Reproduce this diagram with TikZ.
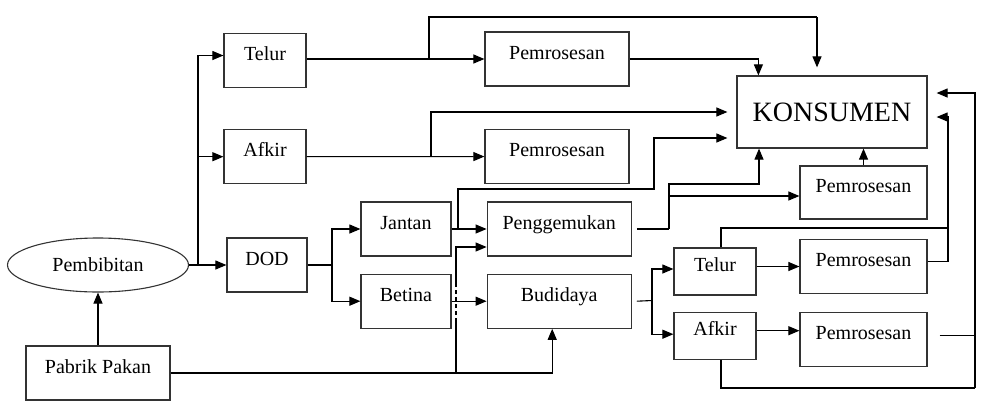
\documentclass[tikz,border=0pt]{standalone}
\usepackage{fontspec}
\setmainfont{Liberation Serif}
\usetikzlibrary{shapes.geometric,arrows.meta,positioning,calc}

\begin{document}
\begin{tikzpicture}[
    x=1pt, y=-1pt,
    font=\fontsize{20pt}{24pt}\selectfont,
    box/.style={rectangle, draw=black!80, line width=1.2pt, minimum width=144pt, minimum height=54pt, inner sep=0pt, text height=10pt, text depth=10pt},
    smallbox/.style={box, minimum width=82pt},
    line/.style={line width=1.1pt},
    arrow/.style={line, -{Triangle[length=11pt,width=9pt]}}
]
    \useasboundingbox (0,0) rectangle (992,405);

    \node[draw=black!80, ellipse, line width=1.1pt, minimum width=181pt, minimum height=54pt, inner sep=0pt] (bibit) at (98,265) {Pembibitan};
    \node[box] (pakan) at (98,373) {Pabrik Pakan};
    \node[smallbox] (telur) at (265,60.5) {Telur};
    \node[smallbox, below=41pt of telur] (afkir) {Afkir};
    \node[smallbox, minimum width=80pt] (dod) at (267,265) {DOD};
    \node[box] (proses1) at (557,59) {Pemrosesan};
    \node[box] (proses2) at (557,156.5) {Pemrosesan};
    \node[box, minimum width=90pt] (jantan) at (406,229) {Jantan};
    \node[box, minimum width=90pt, below=17pt of jantan] (betina) {Betina};
    \node[box, right=35pt of jantan] (gemuk) {Penggemukan};
    \node[box, right=35pt of betina] (budidaya) {Budidaya};
    \node[draw=black!80, line width=1.2pt, minimum width=190pt, minimum height=72pt, font=\fontsize{28pt}{32pt}\selectfont] (konsumen) at (832,112) {KONSUMEN};
    \node[box, minimum width=127pt, minimum height=53pt] (proses3) at (863.5,192.5) {Pemrosesan};
    \node[smallbox, minimum height=47pt] (telur2) at (715,271.5) {Telur};
    \node[smallbox, minimum height=47pt, below=16pt of telur2] (afkir2) {Afkir};
    \node[box, minimum width=127pt] (proses4) at (863.5,266.5) {Pemrosesan};
    \node[box, minimum width=127pt] (proses5) at (863.5,339.5) {Pemrosesan};

    \coordinate (s1) at (198,265);
    \coordinate (s2) at (332,265);
    \coordinate (s3) at (652,300.5);
    \coordinate (j1) at (429,59);
    \coordinate (top) at (817,17);
    \coordinate (j2) at (431,156.5);
    \coordinate (j3) at (458,229);
    \coordinate (j4) at (654,189);
    \coordinate (j5) at (456,373);
    \coordinate (d1) at (456,322);
    \coordinate (d2) at (456,283);
    \coordinate (j6) at (669,229);
    \coordinate (j7) at (759,184);
    \coordinate (r1) at (948,228);
    \coordinate (r2) at (975,388);

    \draw[arrow] (pakan) -- (bibit);
    \draw[arrow] (bibit) -- (dod);
    \draw[arrow] (s1) |- ([yshift=5pt]telur.west);
    \draw[arrow] (s1) |- (afkir.west);

    \draw[arrow] (telur.east |- proses1) -- (proses1.west);
    \draw[line] (j1) |- (top);
    \draw[arrow] (top) -- ([yshift=8pt]konsumen.north -| top);
    \draw[arrow] (proses1.east) -| ([xshift=22pt]konsumen.north west);
    \draw[arrow] (afkir) -- (proses2);
    \draw[arrow] (j2) |- ([xshift=-9pt]konsumen.west);

    \draw[line] (dod) -- (s2);
    \draw[arrow] (s2) |- (jantan.west);
    \draw[arrow] (s2) |- (betina.west);
    \draw[arrow] (jantan) -- (gemuk);
    \draw[arrow] (betina) -- (budidaya);
    \draw[arrow] (j3) |- (j4) |- ([xshift=-9pt,yshift=-26pt]konsumen.west);

    \draw[arrow] (pakan.east) -| ([xshift=-7pt]budidaya.south);
    \draw[line] (j5) -- (d1);
    \draw[line, dash pattern=on 4pt off 3pt] (d1) -- (d2);
    \draw[arrow] (d2) |- ([yshift=-18pt]gemuk.west);

    \draw[line] ([xshift=5pt]gemuk.east) -- (j6);
    \draw[arrow] (j6) |- (j7) -- (konsumen.south -| j7);
    \draw[arrow] ([yshift=-3.5pt]proses3.west -| j6) -- ([yshift=-3.5pt]proses3.west);
    \draw[arrow] (proses3.north) -- (proses3.north |- konsumen.south);

    \draw[line] ([xshift=5pt]budidaya.east) -- (s3);
    \draw[arrow] (s3) |- ([yshift=2.5pt]telur2.west);
    \draw[arrow] (s3) |- ([yshift=1.5pt]afkir2.west);
    \draw[arrow] ([yshift=5pt]telur2.east) -- ([yshift=5pt]telur2.east -| proses4.west);
    \draw[arrow] ([yshift=5pt]afkir2.east) -- ([yshift=5pt]afkir2.east -| proses5.west);

    \draw[line] ([xshift=6pt]telur2.north) |- (r1);
    \draw[line] ([yshift=5pt]proses4.east) -| (r1);
    \draw[arrow] (r1) |- ([xshift=9pt,yshift=-5pt]konsumen.east);
    \draw[line] ([xshift=6pt]afkir2.south) |- (r2);
    \draw[line] ([xshift=12pt,yshift=4pt]proses5.east) -| (r2);
    \draw[arrow] (r2) |- ([xshift=9pt,yshift=19pt]konsumen.east);
\end{tikzpicture}
\end{document}
